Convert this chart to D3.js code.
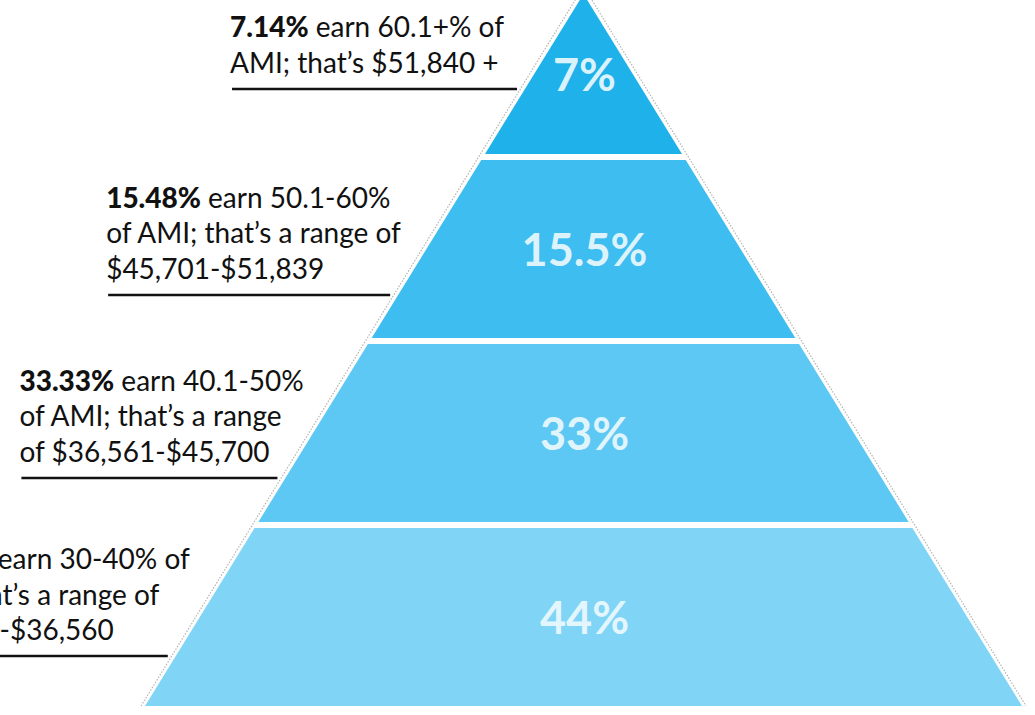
<!DOCTYPE html>
<html>
<head>
<meta charset="utf-8">
<script src="https://cdn.jsdelivr.net/npm/d3@7"></script>
<style>
  html, body { margin: 0; padding: 0; background: #fff; overflow: hidden; }
  svg { display: block; }
</style>
</head>
<body>
<div class="chart"></div>
<script>
// income tiers, top of the pyramid first
var tiers = ["60.1+%", "50.1-60%", "40.1-50%", "30-40%"];
var shares = [7.14, 15.48, 33.33, 44.05];
var shareLabels = ["7%", "15.5%", "33%", "44%"];
var noteLines = [
  [" earn 60.1+% of", "AMI; that\u2019s $51,840 +"],
  [" earn 50.1-60%", "of AMI; that\u2019s a range of", "$45,701-$51,839"],
  [" earn 40.1-50%", "of AMI; that\u2019s a range", "of $36,561-$45,700"],
  [" earn 30-40% of", "AMI; that\u2019s a range of", "$27,420-$36,560"]
];
var tierColors = ["#1fb1ea", "#3dbdf0", "#5cc8f3", "#80d5f6"];

var svgWidth = 1035;
var svgHeight = 715;

// pyramid geometry
var apexY = -6, baseY = 706, cx = 583.5, halfBase = 438.5;

// layout of the side notes (distance from band bottom to rule, width of the note block)
var ruleFromBottom = [65, 43, 44, 50];
var noteWidth = [295, 292, 266, 280];

var svg = d3.select(".chart")
  .append("svg")
  .attr("width", svgWidth)
  .attr("height", svgHeight);

var y = d3.scaleBand()
  .domain(tiers)
  .range([-24, baseY])
  .paddingInner(0.033);

var halfW = d3.scaleLinear()
  .domain([apexY, baseY])
  .range([0, halfBase]);

function leftEdge(v) { return cx - halfW(Math.max(v, apexY)); }
function rightEdge(v) { return cx + halfW(Math.max(v, apexY)); }

// dotted outline just outside the pyramid sides
var off = 4;
var line = d3.line();
svg.append("path")
  .attr("d", line([[leftEdge(baseY) - off, baseY], [cx, apexY - off * 1.9], [rightEdge(baseY) + off, baseY]]))
  .attr("fill", "none")
  .attr("stroke", "#b5b5b5")
  .attr("stroke-width", 1.2)
  .attr("stroke-dasharray", "1.5,1.5");

// tiers
svg.selectAll("path.tier")
  .data(tiers)
  .enter()
  .append("path")
  .attr("class", "tier")
  .attr("d", function(t) {
    var top = Math.max(y(t), apexY);
    var bot = y(t) + y.bandwidth();
    return line([[leftEdge(top), top], [rightEdge(top), top], [rightEdge(bot), bot], [leftEdge(bot), bot]]) + "Z";
  })
  .attr("fill", function(t, i) { return tierColors[i]; });

// share labels inside the tiers
svg.selectAll("text.share")
  .data(tiers)
  .enter()
  .append("text")
  .attr("class", "share")
  .attr("x", cx + 1)
  .attr("y", function(t) {
    var top = Math.max(y(t), apexY);
    var bot = y(t) + y.bandwidth();
    return (top + bot) / 2 + 17;
  })
  .attr("text-anchor", "middle")
  .attr("font-family", "Lato, sans-serif")
  .attr("font-weight", "bold")
  .attr("font-size", 45)
  .attr("fill", "#eef9fe")
  .attr("fill-opacity", 0.93)
  .text(function(t, i) { return shareLabels[i]; });

// side notes with rules
var notes = svg.selectAll("g.note")
  .data(tiers)
  .enter()
  .append("g")
  .attr("class", "note")
  .each(function(t, i) {
    var g = d3.select(this);
    var ruleY = y(t) + y.bandwidth() - ruleFromBottom[i];
    var edge = leftEdge(ruleY);
    var x0 = edge - noteWidth[i];
    var lines = noteLines[i];
    var lastBase = ruleY - 16;
    lines.forEach(function(txt, j) {
      var tx = g.append("text")
        .attr("x", x0)
        .attr("y", lastBase - (lines.length - 1 - j) * 35.5)
        .attr("font-family", "Lato, sans-serif")
        .attr("font-size", 28)
        .attr("fill", "#111");
      if (j === 0) {
        tx.append("tspan")
          .attr("font-weight", 900)
          .text(shares[i].toFixed(2) + "%");
      }
      tx.append("tspan").text(txt);
    });
    g.append("line")
      .attr("x1", x0 + 2)
      .attr("x2", edge - 8)
      .attr("y1", ruleY)
      .attr("y2", ruleY)
      .attr("stroke", "#111")
      .attr("stroke-width", 2.5);
  });
</script>
</body>
</html>
